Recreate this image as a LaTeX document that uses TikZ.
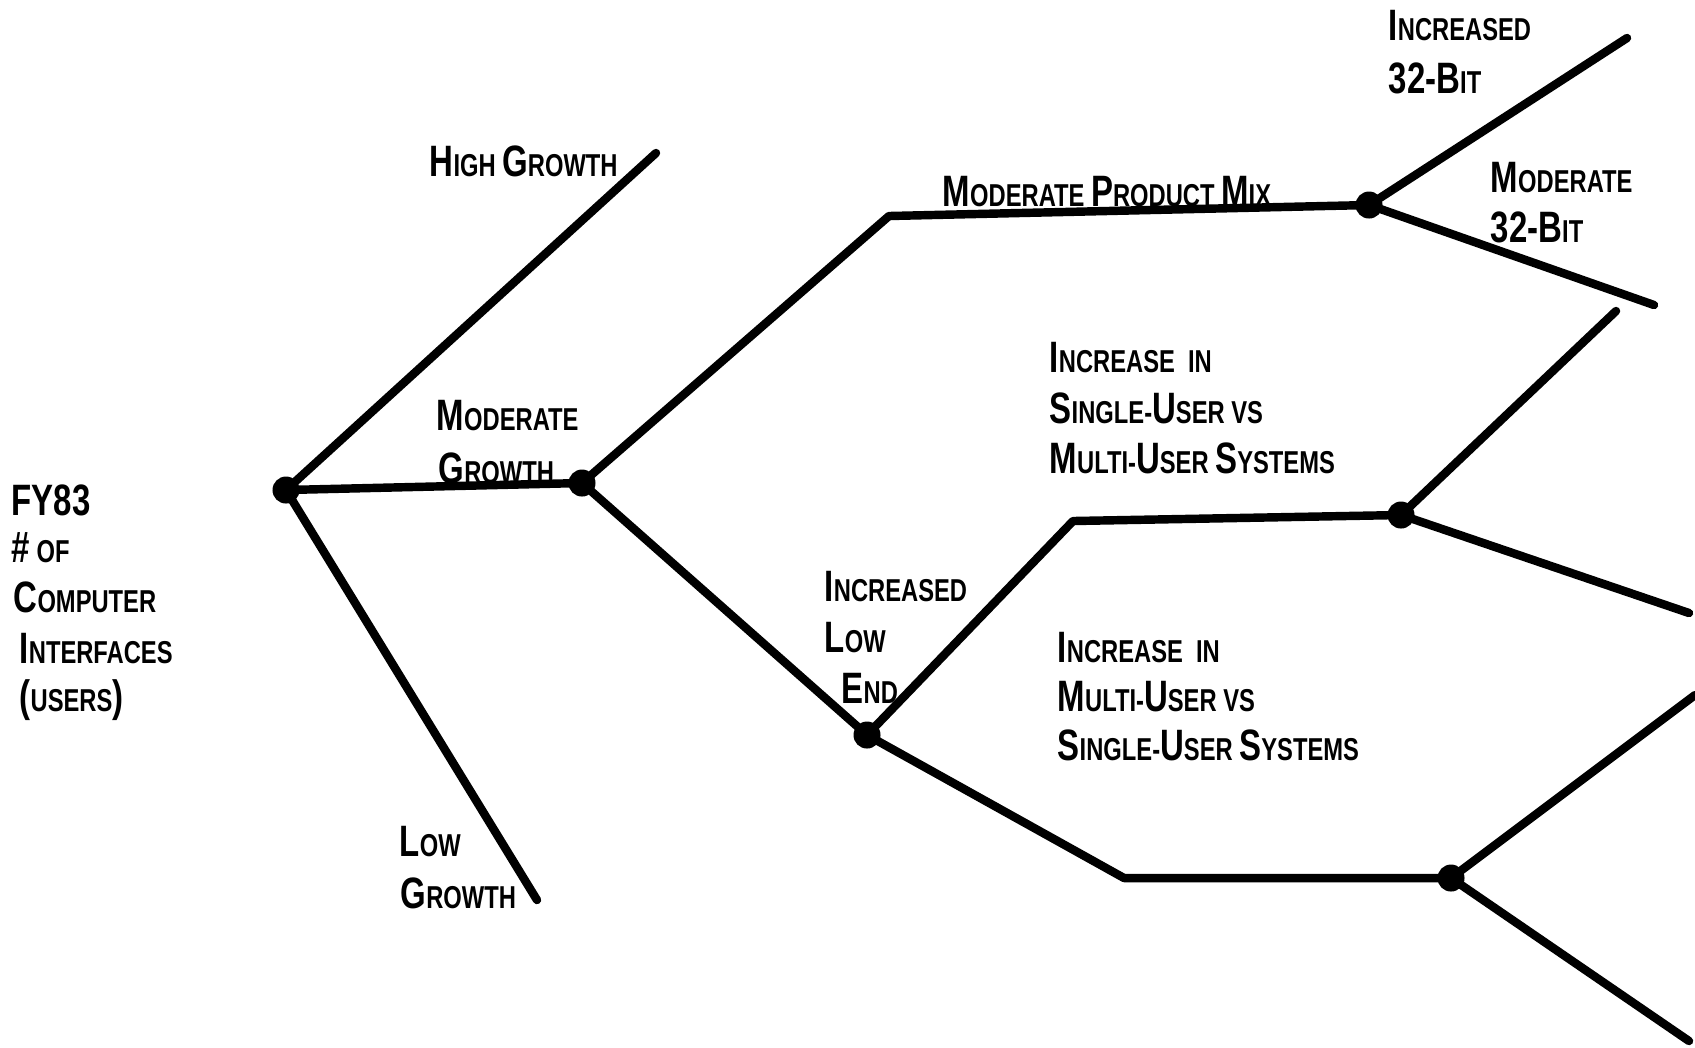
\documentclass[tikz,border=0pt]{standalone}
\usepackage{fontspec}
\newfontfamily\hand{Liberation Sans}[FakeStretch=0.75]
\newcommand\Bg[1]{{\fontsize{12.5pt}{15pt}\selectfont #1}}
\tikzset{
  lbl/.style={anchor=base west, inner sep=0pt, font={\hand\bfseries\fontsize{9pt}{15pt}\selectfont}},
  branch/.style={line width=2.4pt, line cap=round, line join=round},
  dot/.style={circle, fill=black, minimum size=0.27cm, inner sep=0pt}
}
\begin{document}
\begin{tikzpicture}[x=0.01cm,y=-0.01cm]
\useasboundingbox (0,0) rectangle (1695,1047);
% junction dots
\node[dot] (root) at (286,490) {};
\node[dot] (mg)   at (582,483) {};
\node[dot] (B)    at (1369,205) {};
\node[dot] (C)    at (867,735) {};
\node[dot] (E)    at (1401,515) {};
\node[dot] (G)    at (1451,878) {};
% bends and free ends
\coordinate (hg) at (656,153);
\coordinate (lg) at (537,900);
\coordinate (A)  at (889,216);
\coordinate (B1) at (1627,38);
\coordinate (B2) at (1654,305);
\coordinate (D)  at (1073,521);
\coordinate (E1) at (1616,311);
\coordinate (E2) at (1689,613);
\coordinate (F)  at (1124,878);
\coordinate (G1) at (1695,695);
\coordinate (G2) at (1689,1041);
% connectors
\draw[branch] (root.center) -- (hg);
\draw[branch] (root.center) -- (mg.center);
\draw[branch] (root.center) -- (lg);
\draw[branch] (mg.center) -- (A) -- (B.center);
\draw[branch] (B.center) -- (B1);
\draw[branch] (B.center) -- (B2);
\draw[branch] (mg.center) -- (C.center);
\draw[branch] (C.center) -- (D) -- (E.center);
\draw[branch] (E.center) -- (E1);
\draw[branch] (E.center) -- (E2);
\draw[branch] (C.center) -- (F) -- (G.center);
\draw[branch] (G.center) -- (G1);
\draw[branch] (G.center) -- (G2);
% labels
\node[lbl] (t1) at (11,515) {\Bg{FY83}};
\node[lbl] (t2) at (11,562) {\Bg{\#} OF};
\node[lbl] (t3) at (13,612) {\Bg{C}OMPUTER};
\node[lbl] (t4) at (19,663) {\Bg{I}NTERFACES};
\node[lbl] (t5) at (19,711) {\Bg{(}USERS\Bg{)}};
\node[lbl] (hgl) at (429,176) {\Bg{H}IGH \Bg{G}ROWTH};
\node[lbl] (mgl1) at (436,430) {\Bg{M}ODERATE};
\node[lbl] (mgl2) at (438,483) {\Bg{G}ROWTH};
\node[lbl] (lgl1) at (399,856) {\Bg{L}OW};
\node[lbl] (lgl2) at (400,908) {\Bg{G}ROWTH};
\node[lbl] (mpm) at (942,206) {\Bg{M}ODERATE \Bg{P}RODUCT \Bg{M}IX};
\node[lbl] (i321) at (1388,40) {\Bg{I}NCREASED};
\node[lbl] (i322) at (1388,93) {\Bg{32-B}IT};
\node[lbl] (m321) at (1490,192) {\Bg{M}ODERATE};
\node[lbl] (m322) at (1490,242) {\Bg{32-B}IT};
\node[lbl] (su1) at (1049,372) {\Bg{I}NCREASE\ \ IN};
\node[lbl] (su2) at (1049,423) {\Bg{S}INGLE-\Bg{U}SER VS};
\node[lbl] (su3) at (1049,473) {\Bg{M}ULTI-\Bg{U}SER \Bg{S}YSTEMS};
\node[lbl] (le1) at (824,601) {\Bg{I}NCREASED};
\node[lbl] (le2) at (824,652) {\Bg{L}OW};
\node[lbl] (le3) at (841,703) {\Bg{E}ND};
\node[lbl] (mu1) at (1057,662) {\Bg{I}NCREASE\ \ IN};
\node[lbl] (mu2) at (1057,711) {\Bg{M}ULTI-\Bg{U}SER VS};
\node[lbl] (mu3) at (1057,760) {\Bg{S}INGLE-\Bg{U}SER \Bg{S}YSTEMS};
\end{tikzpicture}
\end{document}
